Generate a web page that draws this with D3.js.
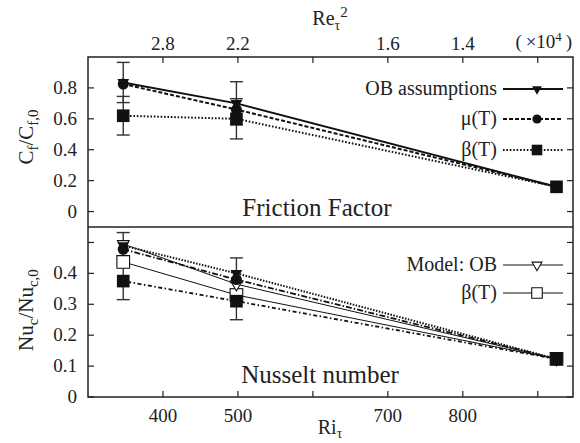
<!DOCTYPE html>
<html>
<head>
<meta charset="utf-8">
<script src="https://cdn.jsdelivr.net/npm/d3@7"></script>
<style>
  body { margin: 0; background: #fff; }
  svg text { font-family: "Liberation Serif", "Times New Roman", Times, "Nimbus Roman", "DejaVu Serif", serif; fill: #222; }
</style>
</head>
<body>
<div id="chart"></div>
<script>
// Ri_tau of the three cases
var riValues = [347, 498, 925];

// Friction factor C_f / C_f,0
var cfOB = [0.835, 0.70, 0.16];
var cfMu = [0.825, 0.66, 0.16];
var cfBeta = [0.62, 0.60, 0.16];
var cfOBErr = [0.13, 0.14, 0];
var cfBetaErr = [0.125, 0.13, 0];

// Nusselt number Nu_c / Nu_c,0
var nuOB = [0.49, 0.40, 0.123];
var nuMu = [0.478, 0.38, 0.123];
var nuBeta = [0.375, 0.31, 0.123];
var nuModelOB = [0.495, 0.365, 0.123];
var nuModelBeta = [0.437, 0.33, 0.123];
var nuOBErr = [0.042, 0.05, 0];
var nuBetaErr = [0.06, 0.06, 0];

// ticks
var riTicks = [400, 500, 600, 700, 800, 900];
var riTickLabels = ["400", "500", "", "700", "800", ""];
var reTickLabels = ["2.8", "2.2", "", "1.6", "1.4", ""];
var cfTicks = [0, 0.2, 0.4, 0.6, 0.8];
var nuTicks = [0, 0.1, 0.2, 0.3, 0.4, 0.5];
var nuTickLabels = ["0", "0.1", "0.2", "0.3", "0.4", ""];

function init() {
    var w = 580, h = 443;
    var left = 88, right = 573, top = 57, mid = 227, bottom = 397;
    var serif = "'Liberation Serif', 'Times New Roman', Times, 'DejaVu Serif', serif";

    var svg = d3.select("#chart").append("svg")
        .attr("width", w).attr("height", h)
        .attr("font-family", serif);

    var x = d3.scaleLinear().domain([300, 947]).range([left, right]);
    var yTop = d3.scaleLinear().domain([-0.1, 1.0]).range([mid, top]);
    var yBot = d3.scaleLinear().domain([0, 0.55]).range([bottom, mid]);

    var tickFont = "19px";

    // mirrored inward ticks, gnuplot style
    function yTicks(scale, ticks, labels) {
        var g = svg.append("g");
        ticks.forEach(function(t, i) {
            var yy = scale(t);
            g.append("line").attr("x1", left).attr("x2", left + 6).attr("y1", yy).attr("y2", yy)
                .attr("stroke", "#222").attr("stroke-width", 1.2);
            g.append("line").attr("x1", right - 6).attr("x2", right).attr("y1", yy).attr("y2", yy)
                .attr("stroke", "#222").attr("stroke-width", 1.2);
            g.append("text").attr("x", left - 11).attr("y", yy + 6)
                .attr("text-anchor", "end").style("font-size", tickFont)
                .text(labels ? labels[i] : d3.format("")(t));
        });
    }
    yTicks(yTop, cfTicks, null);
    yTicks(yBot, nuTicks, nuTickLabels);

    // top axis (Re_tau^2) and bottom axis (Ri_tau)
    riTicks.forEach(function(t, i) {
        var xx = x(t);
        svg.append("line").attr("x1", xx).attr("x2", xx).attr("y1", top).attr("y2", top + 6)
            .attr("stroke", "#222").attr("stroke-width", 1.2);
        svg.append("line").attr("x1", xx).attr("x2", xx).attr("y1", bottom - 6).attr("y2", bottom)
            .attr("stroke", "#222").attr("stroke-width", 1.2);
        svg.append("text").attr("x", xx).attr("y", 50).attr("text-anchor", "middle")
            .style("font-size", tickFont).text(reTickLabels[i]);
        svg.append("text").attr("x", xx).attr("y", 422).attr("text-anchor", "middle")
            .style("font-size", tickFont).text(riTickLabels[i]);
    });

    // series drawing
    var pts = function(vals) { return vals.map(function(v, i) { return [riValues[i], v]; }); };

    function drawLine(scale, vals, dash, width) {
        var line = d3.line().x(function(d) { return x(d[0]); }).y(function(d) { return scale(d[1]); });
        svg.append("path").datum(pts(vals)).attr("d", line)
            .attr("fill", "none").attr("stroke", "#111")
            .attr("stroke-width", width).attr("stroke-dasharray", dash);
    }

    function drawErr(scale, vals, errs) {
        vals.forEach(function(v, i) {
            if (!errs[i]) return;
            var xx = x(riValues[i]);
            var y1 = scale(v + errs[i]), y2 = scale(v - errs[i]);
            svg.append("line").attr("x1", xx).attr("x2", xx).attr("y1", y1).attr("y2", y2)
                .attr("stroke", "#333").attr("stroke-width", 1.4);
            [y1, y2].forEach(function(yy) {
                svg.append("line").attr("x1", xx - 6.5).attr("x2", xx + 6.5).attr("y1", yy).attr("y2", yy)
                    .attr("stroke", "#333").attr("stroke-width", 1.4);
            });
        });
    }

    var symbols = {
        tri: { type: d3.symbolTriangle, size: 60, rot: 180 },
        circ: { type: d3.symbolCircle, size: 95, rot: 0 },
        sq: { type: d3.symbolSquare, size: 160, rot: 0 }
    };

    function marker(px, py, kind, open, scaleSize) {
        var s = symbols[kind];
        svg.append("path")
            .attr("d", d3.symbol().type(s.type).size(s.size * (scaleSize || 1))())
            .attr("transform", "translate(" + px + "," + py + ") rotate(" + s.rot + ")")
            .attr("fill", open ? "#fff" : "#111")
            .attr("stroke", "#111").attr("stroke-width", open ? 1.1 : 0);
    }

    function drawMarkers(scale, vals, kind, open) {
        vals.forEach(function(v, i) { marker(x(riValues[i]), scale(v), kind, open); });
    }

    // Friction factor panel
    drawLine(yTop, cfBeta, "1.6,1.8", 2);
    drawLine(yTop, cfMu, "4,2", 2);
    drawLine(yTop, cfOB, null, 2);
    drawErr(yTop, cfOB, cfOBErr);
    drawErr(yTop, cfBeta, cfBetaErr);
    drawMarkers(yTop, cfBeta, "sq", false);
    drawMarkers(yTop, cfMu, "circ", false);
    drawMarkers(yTop, cfOB, "tri", false);

    // Nusselt panel
    drawLine(yBot, nuOB, "1.5,1.5", 2);
    drawLine(yBot, nuMu, "6,2,1.5,2", 1.8);
    drawLine(yBot, nuModelOB, null, 1);
    drawLine(yBot, nuModelBeta, null, 1);
    drawLine(yBot, nuBeta, "1.5,2.5,4,2.5", 1.8);
    drawErr(yBot, nuOB, nuOBErr);
    drawErr(yBot, nuBeta, nuBetaErr);
    drawMarkers(yBot, nuModelBeta, "sq", true);
    drawMarkers(yBot, nuModelOB, "tri", true);
    drawMarkers(yBot, nuBeta, "sq", false);
    drawMarkers(yBot, nuMu, "circ", false);
    drawMarkers(yBot, nuOB, "tri", false);

    // frames
    svg.append("rect").attr("x", left).attr("y", top).attr("width", right - left).attr("height", bottom - top)
        .attr("fill", "none").attr("stroke", "#222").attr("stroke-width", 1.5);
    svg.append("line").attr("x1", left).attr("x2", right).attr("y1", mid).attr("y2", mid)
        .attr("stroke", "#222").attr("stroke-width", 1.5);

    // legends
    var legTop = [
        { label: "OB assumptions", dash: null, kind: "tri", open: false, w: 2, y: 89 },
        { label: "\u03bc(T)", dash: "4,2", kind: "circ", open: false, w: 2, y: 119 },
        { label: "\u03b2(T)", dash: "1.6,1.8", kind: "sq", open: false, w: 2, y: 150 }
    ];
    var legBot = [
        { label: "Model: OB", dash: null, kind: "tri", open: true, w: 1, y: 265 },
        { label: "\u03b2(T)", dash: null, kind: "sq", open: true, w: 1, y: 293 }
    ];
    legTop.concat(legBot).forEach(function(d) {
        svg.append("text").attr("x", 497).attr("y", d.y + 6).attr("text-anchor", "end")
            .style("font-size", "20px").text(d.label);
        svg.append("line").attr("x1", 503).attr("x2", 563).attr("y1", d.y).attr("y2", d.y)
            .attr("stroke", "#111").attr("stroke-width", d.w).attr("stroke-dasharray", d.dash);
        marker(537, d.y, d.kind, d.open, 0.7);
    });

    // panel titles
    svg.append("text").attr("x", 317).attr("y", 216).attr("text-anchor", "middle")
        .style("font-size", "25px").text("Friction Factor");
    svg.append("text").attr("x", 320).attr("y", 383).attr("text-anchor", "middle")
        .style("font-size", "25px").text("Nusselt number");

    // axis titles
    var reT = svg.append("text").attr("x", 330).attr("y", 25).attr("text-anchor", "middle").style("font-size", "20px");
    reT.append("tspan").text("Re");
    reT.append("tspan").attr("dy", 5).style("font-size", "14px").text("\u03c4");
    reT.append("tspan").attr("dy", -13).style("font-size", "15px").text("2");

    var riT = svg.append("text").attr("x", 330).attr("y", 434).attr("text-anchor", "middle").style("font-size", "20px");
    riT.append("tspan").text("Ri");
    riT.append("tspan").attr("dy", 4).style("font-size", "14px").text("\u03c4");

    var expT = svg.append("text").attr("x", 572).attr("y", 48).attr("text-anchor", "end").style("font-size", "19px");
    expT.append("tspan").text("(\u2009\u00d710");
    expT.append("tspan").attr("dy", -7).style("font-size", "13px").text("4");
    expT.append("tspan").attr("dy", 7).text("\u2009)");

    var cfT = svg.append("text").attr("transform", "translate(33,137) rotate(-90)")
        .attr("text-anchor", "middle").style("font-size", "21px");
    cfT.append("tspan").text("C");
    cfT.append("tspan").attr("dy", 5).style("font-size", "15px").text("f");
    cfT.append("tspan").attr("dy", -5).text("/C");
    cfT.append("tspan").attr("dy", 5).style("font-size", "15px").text("f,0");

    var nuT = svg.append("text").attr("transform", "translate(33,310) rotate(-90)")
        .attr("text-anchor", "middle").style("font-size", "21px");
    nuT.append("tspan").text("Nu");
    nuT.append("tspan").attr("dy", 5).style("font-size", "15px").text("c");
    nuT.append("tspan").attr("dy", -5).text("/Nu");
    nuT.append("tspan").attr("dy", 5).style("font-size", "15px").text("c,0");
}

window.onload = init;
</script>
</body>
</html>
